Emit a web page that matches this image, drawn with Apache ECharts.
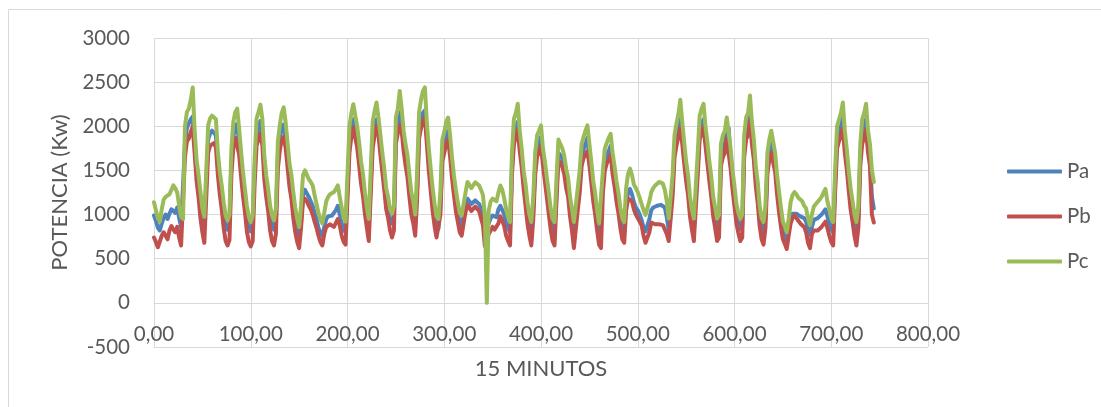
<!DOCTYPE html>
<html>
<head>
<meta charset="utf-8">
<script src="https://cdn.jsdelivr.net/npm/echarts@6/dist/echarts.min.js"></script>
<style>
  html, body { margin: 0; padding: 0; background: #ffffff; }
  #chart { width: 1101px; height: 407px; }
</style>
</head>
<body>
<div id="chart"></div>
<script>
// Sampling interval along the x axis (units of the "15 MINUTOS" axis)
const STEP = 2;

const SERIES_NAMES = ['Pa', 'Pb', 'Pc'];
const SERIES_COLORS = ['#4F81BD', '#C0504D', '#9BBB59'];

const X_TITLE = '15 MINUTOS';
const Y_TITLE = 'POTENCIA (Kw)';

// Phase power readings, one value every STEP units (12 per row)
const PA = [
  990,930,850,820,900,960,1000,950,1010,1060,1080,1020,
  1080,960,860,840,1800,1980,2000,2080,2110,1800,1480,1330,
  1140,960,860,880,1850,1920,1950,1960,1900,1560,1350,1200,
  1030,880,830,890,1600,1880,2000,2030,1800,1560,1340,1170,
  990,870,810,880,1500,1900,2000,2060,1900,1530,1310,1170,
  990,880,830,950,1660,1850,1980,2020,1880,1660,1430,1300,
  1120,960,850,760,920,1220,1280,1260,1200,1150,1100,1020,
  950,850,790,760,860,950,980,1000,990,1010,1050,1100,
  1000,900,830,800,820,1800,1980,2080,2100,1850,1660,1450,
  1330,1120,960,840,830,1850,1980,2080,1980,1760,1560,1380,
  1180,1070,940,900,980,1900,2020,2160,2050,1800,1650,1520,
  1320,1120,1020,880,1300,1950,2080,2150,2180,1900,1620,1380,
  1170,1000,870,840,1100,1700,1800,1900,1950,1760,1520,1320,
  1150,1020,900,870,1000,1100,1180,1150,1120,1130,1160,1150,
  1120,1060,1000,840,830,900,960,990,980,970,1060,1100,
  1080,1000,900,850,800,1550,1880,1960,2050,1800,1620,1380,
  1230,1020,880,800,1050,1550,1760,1820,1880,1640,1480,1300,
  1130,950,840,800,1250,1700,1720,1640,1550,1400,1300,1090,
  950,800,800,1150,1350,1650,1740,1800,1870,1660,1470,1250,
  1120,940,790,770,1350,1600,1680,1720,1780,1570,1420,1260,
  1130,960,850,810,1120,1250,1290,1230,1140,1080,1050,1000,
  940,850,810,800,950,1050,1080,1090,1100,1120,1110,1100,
  1080,970,830,820,1300,1750,1880,1980,2080,1900,1680,1470,
  1330,1080,940,840,850,1550,1950,2030,2080,1850,1680,1470,
  1300,1080,960,840,880,1650,1760,1800,1950,1980,1620,1370,
  1200,1000,900,840,880,1750,1950,2000,2180,1900,1700,1420,
  1240,980,850,800,960,1560,1720,1820,1830,1580,1330,1130,
  960,820,760,700,820,960,1010,1030,1010,990,980,960,
  960,920,830,770,860,940,950,960,980,1000,1030,1060,
  980,900,830,800,1350,1850,1920,2000,2100,1800,1620,1380,
  1180,1030,880,800,950,1650,1900,1980,2080,1800,1660,1200,
  1070
];

const PB = [
  740,690,630,620,760,800,760,720,820,870,830,800,
  860,740,650,640,1650,1830,1860,1930,2000,1700,1380,1200,
  960,800,680,700,1700,1780,1800,1810,1760,1450,1230,1060,
  850,700,650,710,1450,1760,1870,1880,1680,1430,1210,1030,
  810,690,640,700,1350,1780,1860,1920,1780,1400,1200,1040,
  820,700,650,780,1520,1720,1850,1880,1760,1540,1320,1180,
  960,800,690,620,850,1150,1180,1150,1100,1060,1000,920,
  850,760,690,650,780,860,880,890,870,860,880,950,
  880,760,690,660,680,1700,1880,1980,2000,1760,1560,1350,
  1210,1010,850,700,690,1750,1900,2000,1900,1680,1480,1280,
  1060,960,820,740,820,1800,1920,2010,1950,1720,1560,1420,
  1200,1000,900,760,1200,1860,1980,2050,2100,1800,1500,1270,
  1040,870,740,720,1000,1600,1700,1800,1850,1660,1420,1220,
  1040,920,800,760,900,1030,1110,1080,1040,1050,1090,1070,
  1040,960,880,640,620,780,820,860,830,820,900,980,
  960,870,760,700,650,1450,1800,1880,1960,1720,1540,1300,
  1100,900,760,650,950,1450,1660,1700,1780,1560,1380,1200,
  1010,830,700,650,1150,1620,1640,1540,1460,1300,1200,980,
  820,620,640,1050,1250,1550,1640,1660,1720,1560,1360,1150,
  1000,820,660,620,1250,1500,1580,1620,1680,1460,1320,1150,
  1020,850,720,680,1050,1180,1200,1150,1060,1000,960,920,
  880,760,680,660,800,910,920,890,880,890,900,880,
  860,780,700,680,1200,1650,1780,1880,1980,1800,1580,1380,
  1220,980,830,700,700,1450,1850,1930,1990,1780,1580,1380,
  1200,980,850,700,740,1550,1650,1700,1860,1880,1520,1280,
  1090,900,790,700,740,1650,1850,1900,2060,1800,1620,1320,
  1130,870,720,660,850,1460,1620,1700,1720,1480,1230,1030,
  860,720,670,610,760,900,960,990,960,930,900,880,
  860,800,680,620,780,820,830,820,830,860,880,920,
  850,760,690,650,1250,1750,1830,1900,1980,1700,1520,1280,
  1060,920,760,650,850,1550,1800,1870,1960,1700,1550,1000,
  910
];

const PC = [
  1140,1050,960,920,1060,1170,1200,1180,1230,1280,1330,1300,
  1250,1100,975,950,2000,2160,2200,2300,2440,1950,1620,1450,
  1260,1070,975,990,2010,2090,2120,2130,2080,1710,1480,1330,
  1140,990,935,1000,1750,2050,2160,2200,1970,1710,1480,1290,
  1100,975,915,990,1630,2085,2160,2245,2085,1670,1445,1290,
  1100,990,935,1070,1820,2010,2150,2215,2050,1820,1580,1450,
  1250,1080,955,860,1100,1450,1500,1450,1400,1370,1330,1220,
  1120,1020,950,900,1020,1150,1200,1230,1240,1255,1290,1330,
  1200,1080,960,920,940,2000,2150,2250,2250,2000,1820,1600,
  1460,1250,1080,950,930,2050,2170,2270,2100,1900,1700,1520,
  1300,1200,1060,1010,1100,2100,2200,2400,2200,1950,1800,1670,
  1450,1250,1150,1000,1500,2160,2300,2400,2440,2050,1750,1520,
  1300,1120,980,950,1250,1850,1935,2050,2100,1900,1650,1445,
  1280,1140,1020,990,1120,1250,1370,1350,1300,1320,1365,1350,
  1330,1280,1220,990,0,1050,1150,1180,1160,1150,1250,1330,
  1280,1180,1060,970,915,1700,2085,2150,2255,1950,1750,1500,
  1350,1140,1000,915,1200,1700,1900,1950,2010,1750,1600,1420,
  1250,1070,950,915,1400,1850,1870,1750,1670,1520,1420,1200,
  1060,915,920,1300,1500,1800,1880,1950,2010,1800,1600,1380,
  1240,1050,900,880,1500,1750,1810,1870,1915,1700,1550,1380,
  1250,1080,960,915,1300,1460,1520,1450,1340,1300,1255,1190,
  1120,1050,995,990,1150,1255,1300,1330,1340,1370,1370,1350,
  1280,1150,955,940,1450,1900,2030,2140,2300,2050,1820,1600,
  1450,1200,1050,955,960,1700,2120,2200,2255,2000,1820,1600,
  1430,1200,1080,955,1000,1800,1900,1950,2100,2120,1750,1500,
  1320,1120,1020,955,1000,1900,2100,2150,2350,2050,1850,1550,
  1370,1100,960,915,1100,1700,1850,1950,1950,1700,1450,1260,
  1080,920,870,800,950,1140,1220,1255,1230,1190,1180,1150,
  1100,1070,950,880,1000,1090,1120,1140,1170,1200,1250,1290,
  1150,1060,960,915,1500,2000,2080,2150,2270,1950,1750,1500,
  1300,1150,1000,915,1100,1800,2080,2150,2255,1950,1800,1500,
  1370
];

// Axis ranges and tick spacing
const X_MIN = 0, X_MAX = 800, X_INTERVAL = 100;
const Y_MIN = -500, Y_MAX = 3000, Y_INTERVAL = 500;

const TEXT_COLOR = '#595959';
const GRID_COLOR = '#d9d9d9';
const FONT = 'Lato, "Open Sans", sans-serif';

function toPairs(values) {
  return values.map((v, i) => [i * STEP, v]);
}

const chart = echarts.init(document.getElementById('chart'), null, { renderer: 'canvas' });

const seriesValues = [PA, PB, PC];

chart.setOption({
  animation: false,
  backgroundColor: '#ffffff',
  textStyle: { fontFamily: FONT },
  graphic: [{
    type: 'rect',
    shape: { x: 8.5, y: 9.5, width: 1200, height: 500 },
    style: { fill: 'none', stroke: GRID_COLOR, lineWidth: 1 },
    silent: true
  }],
  grid: {
    left: 154, right: 173, top: 38, bottom: 60,
    containLabel: false,
    outerBoundsMode: 'none'
  },
  legend: {
    orient: 'vertical',
    left: 1002,
    top: 156,
    icon: 'roundRect',
    itemWidth: 55,
    itemHeight: 4,
    itemGap: 24,
    textStyle: { color: TEXT_COLOR, fontSize: 20.5, fontFamily: FONT },
    data: SERIES_NAMES
  },
  xAxis: {
    type: 'value',
    min: X_MIN,
    max: X_MAX,
    interval: X_INTERVAL,
    name: X_TITLE,
    nameLocation: 'middle',
    nameGap: 11,
    nameTextStyle: { color: TEXT_COLOR, fontSize: 22, fontFamily: FONT },
    axisLine: { onZero: true, lineStyle: { color: GRID_COLOR, width: 1 } },
    axisTick: { show: false },
    axisLabel: {
      color: TEXT_COLOR,
      fontSize: 20.5,
      fontFamily: FONT,
      margin: -23,
      formatter: v => v.toFixed(2).replace('.', ',')
    },
    splitLine: { show: true, lineStyle: { color: GRID_COLOR, width: 1 } }
  },
  yAxis: {
    type: 'value',
    min: Y_MIN,
    max: Y_MAX,
    interval: Y_INTERVAL,
    name: Y_TITLE,
    nameLocation: 'middle',
    nameGap: 83,
    nameTextStyle: { color: TEXT_COLOR, fontSize: 22, fontFamily: FONT },
    axisLine: { show: false },
    axisTick: { show: false },
    axisLabel: {
      color: TEXT_COLOR,
      fontSize: 20.5,
      fontFamily: FONT,
      margin: 24,
      formatter: v => String(v)
    },
    splitLine: { show: true, lineStyle: { color: GRID_COLOR, width: 1 } }
  },
  series: SERIES_NAMES.map((name, k) => ({
    name,
    type: 'line',
    data: toPairs(seriesValues[k]),
    showSymbol: false,
    symbol: 'none',
    color: SERIES_COLORS[k],
    lineStyle: { color: SERIES_COLORS[k], width: 4, join: 'round', cap: 'round' },
    emphasis: { disabled: true }
  }))
});
</script>
</body>
</html>
